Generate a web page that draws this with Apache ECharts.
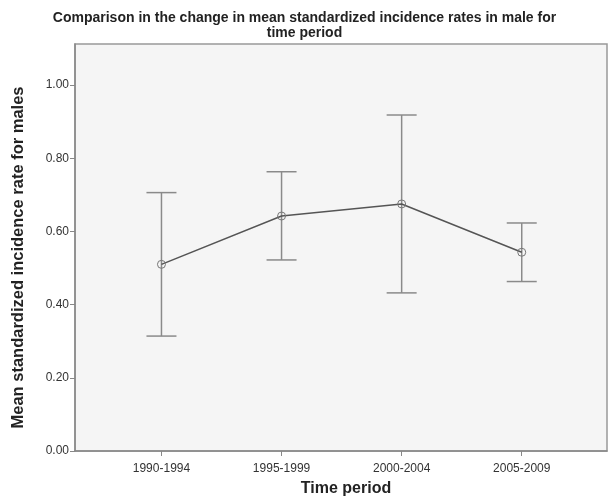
<!DOCTYPE html>
<html>
<head>
<meta charset="utf-8">
<script src="https://cdn.jsdelivr.net/npm/echarts@6/dist/echarts.min.js"></script>
<style>
  html, body { margin: 0; padding: 0; background: #fff; }
  #chart { width: 609px; height: 498px; }
</style>
</head>
<body>
<div id="chart"></div>
<script>
// 数据
const periods = ['1990-1994', '1995-1999', '2000-2004', '2005-2009'];
const means = [0.510, 0.642, 0.675, 0.543];
const upper = [0.706, 0.763, 0.918, 0.623];
const lower = [0.314, 0.522, 0.432, 0.463];
const yTicks = [0, 0.2, 0.4, 0.6, 0.8, 1.0];

const myChart = echarts.init(document.getElementById('chart'));
const font = '"Liberation Sans", Arial, sans-serif';

myChart.setOption({
  animation: false,
  title: {
    text: 'Comparison in the change in mean standardized incidence rates in male for\ntime period',
    left: 'center',
    top: 6,
    textStyle: {
      fontFamily: font,
      fontSize: 14,
      fontWeight: 'bold',
      color: '#222',
      lineHeight: 15,
    },
  },
  grid: {
    left: 75,
    right: 2,
    top: 44,
    bottom: 47,
    outerBoundsMode: 'none',
    show: true,
    backgroundColor: '#f5f5f5',
    borderColor: '#999',
    borderWidth: 1.5,
  },
  xAxis: {
    type: 'value',
    min: -0.72,
    max: 3.71,
    name: 'Time period',
    nameLocation: 'middle',
    nameGap: 30,
    nameTextStyle: { fontFamily: font, fontSize: 16, fontWeight: 'bold', color: '#222', padding: [0, 0, 0, 10] },
    splitLine: { show: false },
    axisLine: { onZero: false, lineStyle: { color: '#888', width: 1.5 } },
    axisTick: { customValues: [0, 1, 2, 3], length: 5, lineStyle: { color: '#888' } },
    axisLabel: {
      customValues: [0, 1, 2, 3],
      formatter: (v) => periods[Math.round(v)] || '',
      fontFamily: font,
      fontSize: 12,
      color: '#333',
      margin: 12,
    },
  },
  yAxis: {
    type: 'value',
    min: 0,
    max: 1.112,
    name: 'Mean standardized incidence rate for males',
    nameLocation: 'middle',
    nameGap: 48,
    nameTextStyle: { fontFamily: font, fontSize: 16.5, fontWeight: 'bold', color: '#222', padding: [0, 20, 0, 0] },
    splitLine: { show: false },
    axisLine: { show: true, onZero: false, lineStyle: { color: '#888', width: 1.5 } },
    axisTick: { show: true, customValues: yTicks, length: 5, lineStyle: { color: '#888' } },
    axisLabel: {
      customValues: yTicks,
      formatter: (v) => v.toFixed(2),
      fontFamily: font,
      fontSize: 12,
      color: '#333',
      margin: 6,
    },
  },
  series: [
    {
      type: 'custom',
      data: periods.map((p, i) => [i, lower[i], upper[i]]),
      renderItem: (params, api) => {
        const lo = api.coord([api.value(0), api.value(1)]);
        const hi = api.coord([api.value(0), api.value(2)]);
        const half = 15;
        const style = { stroke: '#8a8a8a', lineWidth: 1.5 };
        return {
          type: 'group',
          children: [
            { type: 'line', shape: { x1: lo[0], y1: lo[1], x2: hi[0], y2: hi[1] }, style },
            { type: 'line', shape: { x1: hi[0] - half, y1: hi[1], x2: hi[0] + half, y2: hi[1] }, style },
            { type: 'line', shape: { x1: lo[0] - half, y1: lo[1], x2: lo[0] + half, y2: lo[1] }, style },
          ],
        };
      },
      z: 2,
    },
    {
      type: 'line',
      data: periods.map((p, i) => [i, means[i]]),
      symbol: 'circle',
      symbolSize: 8,
      showSymbol: true,
      lineStyle: { color: '#555', width: 1.5 },
      itemStyle: { color: 'rgba(0,0,0,0)', borderColor: '#777', borderWidth: 1 },
      z: 3,
    },
  ],
});
</script>
</body>
</html>
